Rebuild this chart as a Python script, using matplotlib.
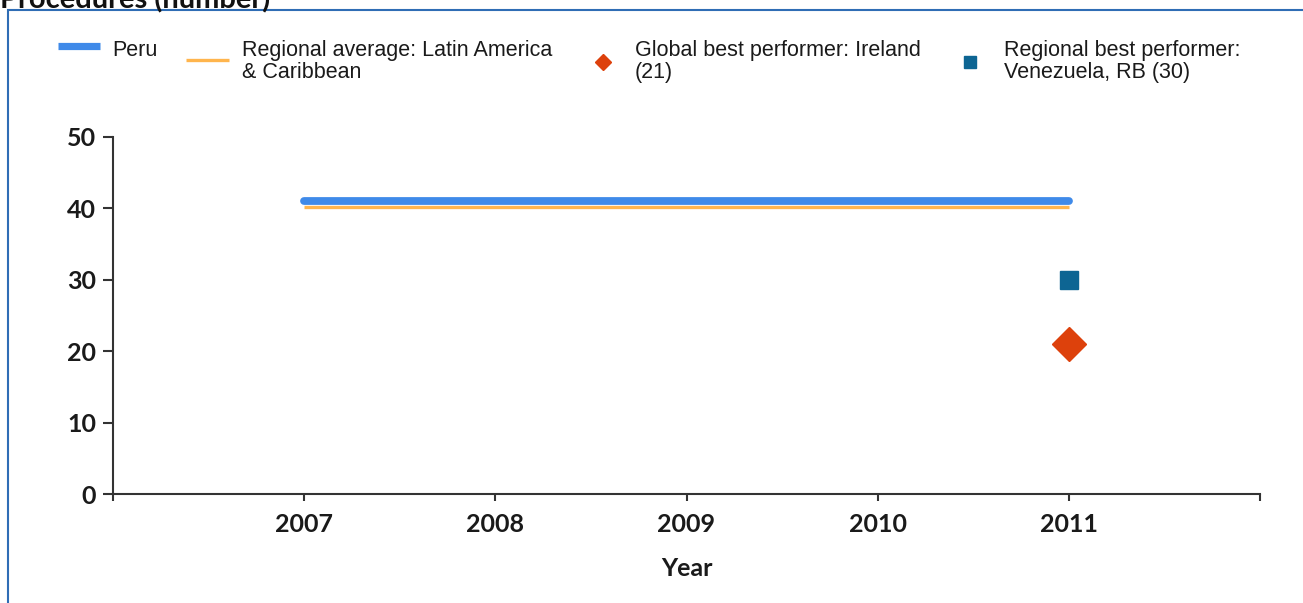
import matplotlib.pyplot as plt
from matplotlib.lines import Line2D
from matplotlib.patches import Rectangle

years = [2007, 2008, 2009, 2010, 2011]
peru = [41, 41, 41, 41, 41]
regional_avg = [40.2, 40.2, 40.2, 40.2, 40.2]
global_best_year = [2011]
global_best = [21]
regional_best_year = [2011]
regional_best = [30]
y_ticks = [0, 10, 20, 30, 40, 50]

W, H = 1303, 603
fig = plt.figure(figsize=(W / 100, H / 100), dpi=100)
fig.patch.set_facecolor("white")


def fx(px):
    return px / W


def fy(py):
    return 1 - py / H


# frame around the chart panel (runs off the right and bottom edges)
fig.patches.append(Rectangle((fx(8), fy(10) - 2.0), 2.0, 2.0, transform=fig.transFigure,
                             fill=False, edgecolor="#2f6db5", linewidth=1.5))
fig.text(fx(0), fy(0), "Procedures (number)", fontfamily="Lato", fontweight="bold",
         fontsize=21, va="center", ha="left", color="#111111")

ax = fig.add_axes([fx(113), fy(494), fx(1260) - fx(113), fy(137) - fy(494)])
ax.plot(years, regional_avg, color="#ffb54d", lw=2.4, solid_capstyle="butt", zorder=2)
ax.plot(years, peru, color="#3f8ae9", lw=5.6, solid_capstyle="round", zorder=3)
ax.plot(regional_best_year, regional_best, ls="none", marker="s", ms=12.5,
        color="#0d6593", zorder=4)
ax.plot(global_best_year, global_best, ls="none", marker="D", ms=17,
        color="#dd410c", zorder=4)

ax.set_xlim(2006, 2012)
ax.set_ylim(0, 50)
ax.set_xticks([2006] + years + [2012])
ax.set_xticklabels([""] + [str(y) for y in years] + [""])
ax.set_yticks(y_ticks)
ax.set_yticklabels([str(v) for v in y_ticks])
for s in ["top", "right"]:
    ax.spines[s].set_visible(False)
for s in ["left", "bottom"]:
    ax.spines[s].set_color("#333333")
    ax.spines[s].set_linewidth(1.5)
ax.tick_params(axis="y", length=7, width=1.5, color="#333333", pad=5)
ax.tick_params(axis="x", length=5, width=1.5, color="#333333", pad=9)
for lab in ax.get_xticklabels() + ax.get_yticklabels():
    lab.set_fontfamily("Lato")
    lab.set_fontweight("bold")
    lab.set_fontsize(18)
    lab.set_color("#1a1a1a")
ax.set_xlabel("Year", fontfamily="Lato", fontweight="bold", fontsize=18,
              color="#1a1a1a", labelpad=15)

# legend row
leg_font = dict(fontfamily="Liberation Sans", fontsize=15.5, color="#1a1a1a",
                va="top", ha="left", linespacing=1.08)
fig.add_artist(Line2D([fx(58), fx(100)], [fy(46), fy(46)], transform=fig.transFigure,
                      color="#3f8ae9", lw=5.2, solid_capstyle="butt"))
fig.text(fx(112), fy(40), "Peru", **leg_font)
fig.add_artist(Line2D([fx(186), fx(229)], [fy(60), fy(60)], transform=fig.transFigure,
                      color="#ffb54d", lw=2.4, solid_capstyle="butt"))
fig.text(fx(242), fy(40), "Regional average: Latin America\n& Caribbean", **leg_font)
fig.add_artist(Line2D([fx(603)], [fy(62)], transform=fig.transFigure, ls="none",
                      marker="D", ms=8, color="#dd410c"))
fig.text(fx(635), fy(40), "Global best performer: Ireland\n(21)", **leg_font)
fig.add_artist(Line2D([fx(970)], [fy(62)], transform=fig.transFigure, ls="none",
                      marker="s", ms=8, color="#0d6593"))
fig.text(fx(1004), fy(40), "Regional best performer:\nVenezuela, RB (30)", **leg_font)

fig.savefig("out.png", dpi=100)
